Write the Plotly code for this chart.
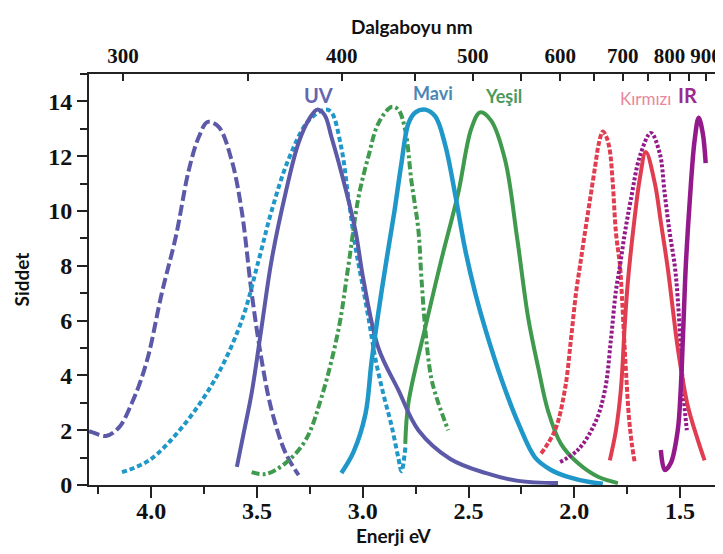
import plotly.graph_objects as go

# ---------------- data (energy eV, intensity) ----------------
uv_dash_e = [4.294, 4.280, 4.214, 4.152, 4.091, 4.050, 4.011, 3.950, 3.884, 3.822, 3.775, 3.733, 3.681, 3.620, 3.572, 3.525, 3.478, 3.431, 3.365, 3.303]
uv_dash_y = [1.97, 1.93, 1.79, 2.1, 3.0, 3.8, 4.8, 7.0, 9.05, 11.5, 12.7, 13.25, 13.07, 11.86, 10.0, 7.0, 4.56, 2.74, 1.17, 0.36]

uv_solid_e = [3.595, 3.560, 3.525, 3.478, 3.431, 3.365, 3.303, 3.250, 3.215, 3.180, 3.148, 3.101, 3.035, 2.997, 2.926, 2.832, 2.737, 2.586, 2.421, 2.265, 2.077]
uv_solid_y = [0.66, 2.0, 3.36, 5.77, 8.2, 10.65, 12.5, 13.4, 13.7, 13.5, 12.7, 11.4, 9.3, 7.5, 5.0, 3.47, 2.0, 0.95, 0.44, 0.15, 0.07]

mavi_dash_e = [4.138, 4.010, 3.855, 3.695, 3.572, 3.492, 3.431, 3.350, 3.256, 3.176, 3.148, 3.101, 3.068, 3.035, 3.006, 2.973, 2.940, 2.902, 2.865, 2.832, 2.817, 2.798]
mavi_dash_y = [0.47, 0.9, 2.1, 3.9, 6.0, 8.2, 10.0, 11.9, 13.3, 13.7, 13.6, 12.3, 10.5, 8.7, 7.5, 6.1, 4.6, 3.3, 2.2, 1.0, 0.5, 1.4]

mavi_solid_e = [3.101, 3.044, 2.987, 2.959, 2.926, 2.888, 2.850, 2.817, 2.784, 2.751, 2.704, 2.657, 2.610, 2.563, 2.516, 2.468, 2.421, 2.346, 2.265, 2.185, 2.110, 2.030, 1.921, 1.865]
mavi_solid_y = [0.44, 1.2, 2.6, 4.45, 6.3, 8.2, 10.0, 11.75, 13.2, 13.6, 13.7, 13.45, 12.4, 10.6, 8.6, 7.0, 5.7, 3.9, 2.26, 1.0, 0.55, 0.3, 0.1, 0.05]

yesil_dash_e = [3.525, 3.459, 3.365, 3.270, 3.195, 3.115, 3.068, 3.020, 2.973, 2.926, 2.864, 2.832, 2.799, 2.770, 2.737, 2.723, 2.704, 2.676, 2.643, 2.596]
yesil_dash_y = [0.47, 0.4, 0.8, 1.64, 3.2, 5.66, 8.0, 10.5, 12.0, 13.2, 13.8, 13.7, 12.95, 11.1, 9.3, 7.6, 5.66, 3.9, 3.0, 2.0]

yesil_solid_e = [2.799, 2.784, 2.704, 2.629, 2.549, 2.487, 2.445, 2.393, 2.327, 2.270, 2.218, 2.171, 2.124, 2.063, 1.983, 1.888, 1.794]
yesil_solid_y = [1.5, 3.0, 5.77, 8.2, 10.65, 13.0, 13.6, 13.3, 11.86, 9.0, 6.1, 4.3, 2.7, 1.5, 0.8, 0.3, 0.07]

kirmizi_dash_e = [2.157, 2.091, 2.044, 2.016, 1.992, 1.973, 1.950, 1.926, 1.902, 1.883, 1.865, 1.848, 1.832, 1.818, 1.803, 1.784, 1.775, 1.766, 1.756, 1.742, 1.728, 1.714]
kirmizi_dash_y = [1.15, 2.0, 3.5, 5.3, 7.0, 8.0, 9.2, 10.4, 11.6, 12.5, 12.9, 12.7, 12.2, 11.0, 9.2, 8.0, 6.9, 5.6, 4.2, 2.5, 1.5, 0.8]

kirmizi_solid_e = [1.832, 1.818, 1.803, 1.780, 1.761, 1.747, 1.714, 1.690, 1.662, 1.619, 1.591, 1.558, 1.534, 1.511, 1.464, 1.416, 1.384]
kirmizi_solid_y = [0.9, 1.4, 2.0, 3.47, 5.9, 7.4, 9.8, 11.2, 12.15, 11.0, 9.6, 7.9, 6.4, 5.0, 2.9, 1.64, 0.9]

ir_dash_e = [2.067, 1.983, 1.902, 1.855, 1.827, 1.803, 1.784, 1.761, 1.733, 1.690, 1.638, 1.596, 1.573, 1.549, 1.525, 1.511, 1.497, 1.483, 1.468]
ir_dash_y = [0.84, 1.28, 2.26, 3.47, 5.3, 7.1, 8.0, 9.2, 10.4, 12.0, 12.85, 12.1, 10.65, 9.2, 8.0, 6.8, 5.0, 3.2, 2.0]

ir_solid_e = [1.591, 1.572, 1.544, 1.511, 1.497, 1.487, 1.478, 1.473, 1.454, 1.431, 1.412, 1.393, 1.379]
ir_solid_y = [1.28, 0.55, 0.8, 2.0, 3.47, 5.3, 7.1, 8.0, 10.4, 12.6, 13.4, 12.85, 11.75]

energy_ticks = [4.0, 3.5, 3.0, 2.5, 2.0, 1.5]
energy_minor = [4.25, 3.75, 3.25, 2.75, 2.25, 1.75]
wavelength_major = [300, 400, 500, 600, 700, 800, 900]
wavelength_minor = [350, 450, 550, 650, 750, 850]
intensity_ticks = [0, 2, 4, 6, 8, 10, 12, 14]

labels = ["UV", "Mavi", "Yeşil", "Kırmızı", "IR"]

# ---------------- styles ----------------
C_UV = "#5b59a8"
C_MAVI = "#1f97c8"
C_YESIL = "#3f9a4e"
C_RED = "#e03e50"
C_IR = "#941a8b"

fig = go.Figure()

def add(e, y, color, dash, width=4):
    fig.add_trace(go.Scatter(x=e, y=y, mode="lines",
                             line=dict(color=color, width=width, dash=dash, shape="spline", smoothing=1.0),
                             showlegend=False, hoverinfo="skip"))

add(uv_dash_e, uv_dash_y, C_UV, "11px,4px")
add(mavi_dash_e, mavi_dash_y, C_MAVI, "5px,3px")
add(yesil_dash_e, yesil_dash_y, C_YESIL, "8px,3px,3px,3px")
add(yesil_solid_e, yesil_solid_y, C_YESIL, "solid")
add(uv_solid_e, uv_solid_y, C_UV, "solid")
add(mavi_solid_e, mavi_solid_y, C_MAVI, "solid", 4.5)
add(kirmizi_dash_e, kirmizi_dash_y, C_RED, "5px,2px")
add(ir_dash_e, ir_dash_y, C_IR, "3px,2px")
add(kirmizi_solid_e, kirmizi_solid_y, C_RED, "solid")
add(ir_solid_e, ir_solid_y, C_IR, "solid", 4.5)

# invisible trace for top axis
fig.add_trace(go.Scatter(x=[energy_ticks[0]], y=[0], xaxis="x2", mode="markers",
                         marker=dict(opacity=0), showlegend=False, hoverinfo="skip"))

x_range = [4.294, 1.316]
top_major = [1239.84 / w for w in wavelength_major]
top_minor = [1239.84 / w for w in wavelength_minor]

axis_color = "#222222"
SERIF = "Liberation Serif, Times New Roman, serif"
serif = dict(family=SERIF, size=24, color="#111111", weight="bold")

# the page body has an 8px margin; figure is sized to fit the 723x554 window
fig.update_layout(
    width=714, height=538, autosize=False,
    margin=dict(l=81, r=1, t=66, b=61),
    paper_bgcolor="white", plot_bgcolor="white",
    xaxis=dict(range=x_range, tickvals=energy_ticks, ticktext=[f"{v:.1f}" for v in energy_ticks],
               ticks="outside", ticklen=11, tickwidth=2, tickcolor=axis_color,
               minor=dict(tickvals=energy_minor, ticks="outside", ticklen=7, tickwidth=2, tickcolor=axis_color),
               showline=True, linewidth=2, linecolor=axis_color, showgrid=False, zeroline=False,
               tickfont=serif, ticklabelstandoff=-8),
    xaxis2=dict(range=x_range, overlaying="x", side="top", tickvals=top_major,
                ticktext=[str(w) for w in wavelength_major],
                ticks="inside", ticklen=7, tickwidth=2, tickcolor=axis_color,
                minor=dict(tickvals=top_minor, ticks="inside", ticklen=7, tickwidth=2, tickcolor=axis_color),
                showline=True, linewidth=2, linecolor=axis_color, showgrid=False, zeroline=False,
                tickfont=dict(family=SERIF, size=21, color="#111111", weight="bold"),
                ticklabelstandoff=1),
    yaxis=dict(range=[0, 15], tickvals=intensity_ticks, ticktext=[str(v) for v in intensity_ticks],
               ticks="outside", ticklen=10, tickwidth=2, tickcolor=axis_color,
               minor=dict(dtick=1, tick0=0, ticks="outside", ticklen=7, tickwidth=2, tickcolor=axis_color),
               showline=True, linewidth=2, linecolor=axis_color, mirror=True,
               showgrid=False, zeroline=False, tickfont=serif, ticklabelstandoff=0),
)

title_font = dict(family="Lato", size=19, color="#111111", weight="bold")
fig.add_annotation(text="Siddet", xref="paper", yref="paper", x=0, y=0.5, xshift=-68,
                   xanchor="center", yanchor="middle",
                   textangle=-90, showarrow=False, font=title_font)
fig.add_annotation(text="Enerji eV", xref="paper", yref="paper", x=0.5, y=0, xshift=-10, yshift=-50,
                   xanchor="center", yanchor="middle", showarrow=False, font=title_font)
fig.add_annotation(text="Dalgaboyu nm", xref="paper", yref="paper", x=0.5, y=1, xshift=8, yshift=48,
                   xanchor="center", yanchor="middle", showarrow=False, font=title_font)

label_pos = [(3.209, 14.25), (2.666, 14.3), (2.336, 14.2), (1.662, 14.1), (1.464, 14.25)]
label_col = ["#6565b0", "#4a87b5", "#4a9a5c", "#e8879c", "#9b2a8e"]
label_size = [20, 18, 18, 17, 20]
label_weight = ["bold", "bold", "bold", "normal", "bold"]
for t, (lx, ly), c, s, w in zip(labels, label_pos, label_col, label_size, label_weight):
    fig.add_annotation(text=t, x=lx, y=ly, xref="x", yref="y", showarrow=False,
                       font=dict(family="Lato", size=s, color=c, weight=w))

fig.write_html("out.html")
